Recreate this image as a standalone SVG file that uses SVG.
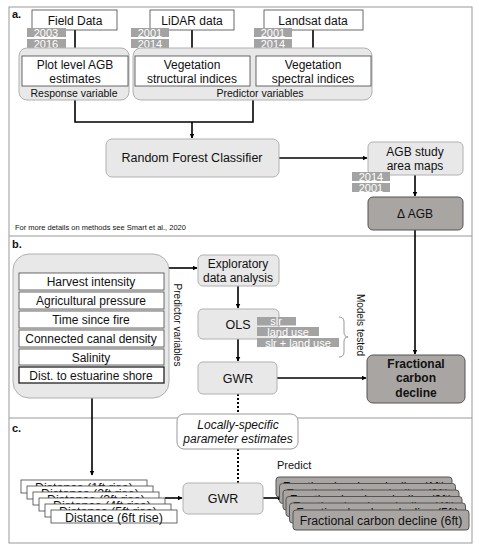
<svg xmlns="http://www.w3.org/2000/svg" width="479" height="550" viewBox="0 0 479 550">
<defs>
<marker id="ah" viewBox="0 0 10 10" refX="9" refY="5" markerWidth="5" markerHeight="5" orient="auto" markerUnits="userSpaceOnUse"><path d="M0,0 L10,5 L0,10 z" fill="#000"/></marker>
<style>
text{font-family:"Liberation Sans",Arial,sans-serif;fill:#111;}
.c{text-anchor:middle;}
.wb{fill:#fff;stroke:#444;stroke-width:0.8;}
.lg{fill:#e8e8e8;stroke:#b0b0b0;stroke-width:1;}
.dk{fill:#a8a5a3;stroke:#555;stroke-width:1;}
.tag{fill:#a3a3a3;}
.tt{fill:#fff;font-size:11px;text-anchor:middle;}
.ln{fill:none;stroke:#000;stroke-width:1.6;}
.dot{fill:none;stroke:#000;stroke-width:2;stroke-dasharray:2,2;}
.f12{font-size:12px;}
.fs{font-size:12.5px;}
.fcd{font-size:12.3px;}
</style>
</defs>
<rect x="0" y="0" width="479" height="550" fill="#fff"/>
<rect x="9" y="7" width="463" height="536" fill="none" stroke="#999" stroke-width="1"/>
<line x1="9" y1="236" x2="472" y2="236" stroke="#999" stroke-width="1"/>
<line x1="9" y1="418" x2="472" y2="418" stroke="#999" stroke-width="1"/>
<text x="12" y="18" style="font-size:11px;font-weight:bold">a.</text>
<text x="12" y="248" style="font-size:11px;font-weight:bold">b.</text>
<text x="12" y="432" style="font-size:11px;font-weight:bold">c.</text>

<g id="connectors">
<line class="ln" x1="75" y1="30" x2="75" y2="55" marker-end="url(#ah)"/>
<line class="ln" x1="192" y1="30" x2="192" y2="55" marker-end="url(#ah)"/>
<line class="ln" x1="313" y1="30" x2="313" y2="55" marker-end="url(#ah)"/>
<polyline class="ln" points="75,100 75,122 253,122 253,100"/>
<line class="ln" x1="192" y1="122" x2="192" y2="138" marker-end="url(#ah)"/>
<line class="ln" x1="279" y1="158" x2="367" y2="158" marker-end="url(#ah)"/>
<line class="ln" x1="415" y1="175" x2="415" y2="196" marker-end="url(#ah)"/>
<line class="ln" x1="415" y1="230" x2="415" y2="354" marker-end="url(#ah)"/>
<line class="ln" x1="169" y1="268" x2="197" y2="268" marker-end="url(#ah)"/>
<line class="ln" x1="238" y1="286" x2="238" y2="308" marker-end="url(#ah)"/>
<line class="ln" x1="238" y1="339" x2="238" y2="361" marker-end="url(#ah)"/>
<line class="ln" x1="277" y1="378" x2="366" y2="378" marker-end="url(#ah)"/>
<line class="dot" x1="238" y1="394" x2="238" y2="414"/>
<line class="dot" x1="238" y1="449" x2="238" y2="483"/>
<line class="ln" x1="92" y1="383" x2="92" y2="475" marker-end="url(#ah)"/>
<line class="ln" x1="165" y1="498" x2="182" y2="498" marker-end="url(#ah)"/>
<line class="ln" x1="263" y1="498" x2="282" y2="498" marker-end="url(#ah)"/>
<path d="M339,317 Q344,317 344,322 L344,332 Q344,337 348,337 Q344,337 344,342 L344,352 Q344,357 339,357" fill="none" stroke="#999" stroke-width="1"/>
</g>

<g id="field-data">
<rect class="wb" x="32" y="10" width="85" height="20"/>
<text class="c f12" x="75" y="24.5">Field Data</text>
<rect class="tag" x="27" y="28" width="39" height="9"/><text class="tt" x="46" y="36.5">2003</text>
<rect class="tag" x="27" y="39" width="39" height="9"/><text class="tt" x="46" y="47.5">2016</text>
</g>
<g id="lidar-data">
<rect class="wb" x="150" y="10" width="84" height="20"/>
<text class="c f12" x="192" y="24.5">LiDAR data</text>
<rect class="tag" x="131" y="28" width="38" height="9"/><text class="tt" x="150" y="36.5">2001</text>
<rect class="tag" x="131" y="39" width="38" height="9"/><text class="tt" x="150" y="47.5">2014</text>
</g>
<g id="landsat-data">
<rect class="wb" x="264" y="10" width="99" height="20"/>
<text class="c f12" x="313" y="24.5">Landsat data</text>
<rect class="tag" x="254" y="28" width="38" height="9"/><text class="tt" x="273" y="36.5">2001</text>
<rect class="tag" x="254" y="39" width="38" height="9"/><text class="tt" x="273" y="47.5">2014</text>
</g>
<g id="response-group">
<rect x="19" y="48" width="110" height="52" rx="8" fill="#e8e8e8" stroke="#b0b0b0"/>
<rect class="wb" x="22" y="56" width="106" height="30"/>
<text class="c f12" x="75" y="69">Plot level AGB</text>
<text class="c f12" x="75" y="83">estimates</text>
<text class="c" x="74" y="96.5" style="font-size:10.5px">Response  variable</text>
</g>
<g id="predictor-group-a">
<rect x="133" y="48" width="239" height="52" rx="8" fill="#e8e8e8" stroke="#b0b0b0"/>
<rect class="wb" x="135" y="56" width="115" height="30"/>
<text class="c f12" x="192" y="69">Vegetation</text>
<text class="c f12" x="192" y="83">structural  indices</text>
<rect class="wb" x="256" y="56" width="115" height="30"/>
<text class="c f12" x="313" y="69">Vegetation</text>
<text class="c f12" x="313" y="83">spectral indices</text>
<text class="c" x="260" y="96.5" style="font-size:10.5px">Predictor variables</text>
</g>
<g id="random-forest">
<rect class="lg" x="106" y="139" width="173" height="38" rx="6"/>
<text class="c" x="192" y="162" style="font-size:12.5px">Random  Forest Classifier</text>
</g>
<g id="agb-maps">
<rect class="lg" x="368" y="142" width="95" height="33" rx="5"/>
<text class="c f12" x="415" y="156">AGB study</text>
<text class="c f12" x="415" y="170">area maps</text>
<rect class="tag" x="352" y="172" width="38" height="9"/><text class="tt" x="371" y="180.5">2014</text>
<rect class="tag" x="352" y="183" width="38" height="9"/><text class="tt" x="371" y="191.5">2001</text>
</g>
<g id="delta-agb">
<rect class="dk" x="368" y="197" width="95" height="33" rx="5"/>
<text class="c f12" x="415" y="218">Δ AGB</text>
</g>
<text x="15" y="230" style="font-size:7.5px">For more details on methods see Smart et al., 2020</text>

<g id="predictor-group-b">
<rect x="13" y="254" width="156" height="144" rx="16" fill="#e8e8e8" stroke="#b0b0b0"/>
<rect class="wb" x="19" y="273" width="145" height="17"/><text class="c f12" x="91" y="286">Harvest intensity</text>
<rect class="wb" x="19" y="292" width="145" height="17"/><text class="c f12" x="91" y="305">Agricultural  pressure</text>
<rect class="wb" x="19" y="311" width="145" height="17"/><text class="c f12" x="91" y="324">Time  since fire</text>
<rect class="wb" x="19" y="330" width="145" height="17"/><text class="c f12" x="91" y="343">Connected canal density</text>
<rect class="wb" x="19" y="349" width="145" height="16"/><text class="c f12" x="91" y="361.5">Salinity</text>
<rect x="19" y="367" width="145" height="16" fill="#fff" stroke="#222" stroke-width="1.3"/><text class="c f12" x="91" y="379.5">Dist. to estuarine shore</text>
<text class="c" transform="translate(174,325) rotate(90)" style="font-size:10px">Predictor variables</text>
</g>
<g id="exploratory">
<rect class="lg" x="198" y="255" width="81" height="31" rx="5"/>
<text class="c f12" x="238" y="267.5">Exploratory</text>
<text class="c f12" x="238" y="281.5">data analysis</text>
</g>
<g id="ols">
<rect class="lg" x="198" y="309" width="81" height="30" rx="5"/>
<text class="c fs" x="238" y="328.5">OLS</text>
<rect class="tag" x="257" y="317" width="39" height="8.5"/><text class="tt" x="276" y="325">slr</text>
<rect class="tag" x="257" y="327" width="62" height="9"/><text class="tt" x="288" y="335.5">land use</text>
<rect class="tag" x="257" y="338" width="82" height="9"/><text class="tt" x="298" y="346.5">slr + land use</text>
<text class="c" transform="translate(357,325) rotate(90)" style="font-size:10px">Models tested</text>
</g>
<g id="gwr-b">
<rect class="lg" x="198" y="362" width="79" height="32" rx="5"/>
<text class="c fs" x="238" y="382.5">GWR</text>
</g>
<g id="fractional-carbon">
<rect class="dk" x="367" y="355" width="98" height="48" rx="6"/>
<text class="c" x="416" y="368" style="font-size:12px;font-weight:bold">Fractional</text>
<text class="c" x="416" y="382" style="font-size:12px;font-weight:bold">carbon</text>
<text class="c" x="416" y="397" style="font-size:12px;font-weight:bold">decline</text>
</g>
<g id="locally-specific">
<rect x="177" y="414" width="121" height="35" rx="7" fill="#fff" stroke="#999"/>
<text class="c f12" x="238" y="428.5" style="font-style:italic">Locally-specific</text>
<text class="c f12" x="238" y="443" style="font-style:italic">parameter estimates</text>
</g>

<g id="distance-stack">
<rect class="wb" x="21" y="480" width="126" height="13"/><text class="c fs" x="84" y="492">Distance (1ft rise)</text>
<rect class="wb" x="27" y="486" width="126" height="13"/><text class="c fs" x="90" y="498">Distance (2ft rise)</text>
<rect class="wb" x="33" y="492" width="126" height="13"/><text class="c fs" x="96" y="504">Distance (3ft rise)</text>
<rect class="wb" x="39" y="498" width="126" height="13"/><text class="c fs" x="102" y="510">Distance (4ft rise)</text>
<rect class="wb" x="45" y="504" width="126" height="13"/><text class="c fs" x="108" y="516">Distance (5ft rise)</text>
<rect class="wb" x="51" y="510" width="126" height="13"/><text class="c fs" x="114" y="522">Distance (6ft rise)</text>
</g>
<g id="gwr-c">
<rect class="lg" x="183" y="483" width="80" height="31" rx="5"/>
<text class="c fs" x="223" y="503">GWR</text>
</g>
<text x="277" y="469" style="font-size:11px">Predict</text>
<g id="fcd-stack">
<rect class="dk" x="276" y="477" width="176" height="20" rx="3"/><text class="c fcd" x="364" y="491">Fractional carbon decline (1ft)</text>
<rect class="dk" x="279.5" y="483.5" width="176" height="20" rx="3"/><text class="c fcd" x="367.5" y="497.5">Fractional carbon decline (2ft)</text>
<rect class="dk" x="283" y="490" width="176" height="20" rx="3"/><text class="c fcd" x="371" y="504">Fractional carbon decline (3ft)</text>
<rect class="dk" x="286" y="496.5" width="176" height="20" rx="3"/><text class="c fcd" x="374" y="510.5">Fractional carbon decline (4ft)</text>
<rect class="dk" x="289.5" y="503" width="176" height="20" rx="3"/><text class="c fcd" x="377.5" y="517">Fractional carbon decline (5ft)</text>
<rect class="dk" x="293" y="510" width="176" height="20" rx="3"/><text class="c fcd" x="381" y="524.5">Fractional carbon decline (6ft)</text>
</g>
</svg>
